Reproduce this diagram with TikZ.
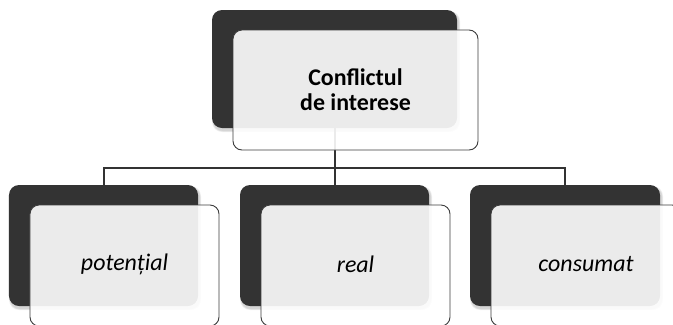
\documentclass[tikz,border=0pt]{standalone}
\usepackage{fontspec}
\setmainfont{Carlito}
\definecolor{darkbox}{HTML}{333333}
\definecolor{edgecol}{HTML}{3C3C3C}
\tikzset{
  back/.style={rectangle, rounded corners=10bp, fill=darkbox, draw=none, inner sep=0pt},
  shadowbox/.style={rectangle, rounded corners=10bp, fill=black, fill opacity=0.06, draw=none, inner sep=0pt},
  front/.style={rectangle, rounded corners=9bp, fill=white, fill opacity=0.9, draw=edgecol, draw opacity=1, line width=0.9bp, inner sep=0pt},
  lbl/.style={font=\fontsize{24}{25}\selectfont, align=center, text=black, text opacity=1},
  conn/.style={draw=darkbox, line width=2bp}
}
\begin{document}
\begin{tikzpicture}[x=1bp,y=-1bp]
\useasboundingbox (0,0) rectangle (673,324);
% shadows
\foreach \cx/\cy/\w/\h in {334.5/69/245/118, 103.5/245.5/189/121, 334.5/245.5/189/121, 565/245.5/190/121}{
  \foreach \d in {1,2,3}{
    \node[shadowbox, minimum width={\w bp+\d bp}, minimum height={\h bp+\d bp}] at (\cx+1.5,\cy+2.5) {};
  }
}
% dark back boxes
\node[back, minimum width=245bp, minimum height=118bp] (topd) at (334.5,69) {};
\node[back, minimum width=189bp, minimum height=121bp] (c1d) at (103.5,245.5) {};
\node[back, minimum width=189bp, minimum height=121bp] (c2d) at (334.5,245.5) {};
\node[back, minimum width=190bp, minimum height=121bp] (c3d) at (565,245.5) {};
% connectors
\draw[conn] (topd.south) -- ++(0,40) -| (c1d.north);
\draw[conn] (topd.south) -- ++(0,40) -| (c2d.north);
\draw[conn] (topd.south) -- ++(0,40) -| (c3d.north);
% front cards
\node[front, minimum width=245bp, minimum height=120bp] (topf) at (355.5,90) {};
\node[front, minimum width=189bp, minimum height=121bp] (c1f) at (124.5,265.5) {};
\node[front, minimum width=189bp, minimum height=121bp] (c2f) at (355.5,265.5) {};
\node[front, minimum width=190bp, minimum height=121bp] (c3f) at (586,265.5) {};
% labels
\node[lbl, font=\fontsize{24}{25}\selectfont\bfseries] (t0) at (topf.center) {Conflictul\\de interese};
\node[lbl, font=\fontsize{24}{25}\selectfont\itshape] (t1) at ([yshift=1.5]c1f.center) {potențial};
\node[lbl, font=\fontsize{24}{25}\selectfont\itshape] (t2) at ([yshift=1.5]c2f.center) {real};
\node[lbl, font=\fontsize{24}{25}\selectfont\itshape] (t3) at ([yshift=1.5]c3f.center) {consumat};
\end{tikzpicture}
\end{document}
